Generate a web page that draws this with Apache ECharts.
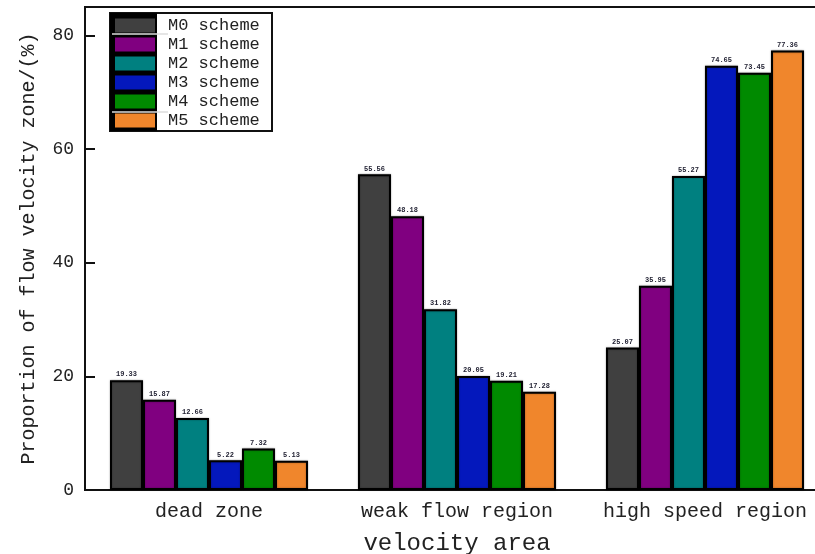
<!DOCTYPE html>
<html>
<head>
<meta charset="utf-8">
<script src="https://cdn.jsdelivr.net/npm/echarts@6/dist/echarts.min.js"></script>
<style>html,body{margin:0;padding:0;background:#fff}#c{width:815px;height:554px}</style>
</head>
<body>
<div id="c"></div>
<script>
const categories = ['dead zone', 'weak flow region', 'high speed region'];
const seriesNames = ['M0 scheme', 'M1 scheme', 'M2 scheme', 'M3 scheme', 'M4 scheme', 'M5 scheme'];
const M0 = [19.33, 55.56, 25.07];
const M1 = [15.87, 48.18, 35.95];
const M2 = [12.66, 31.82, 55.27];
const M3 = [5.22, 20.05, 74.65];
const M4 = [7.32, 19.21, 73.45];
const M5 = [5.13, 17.28, 77.36];
const yTicks = [0, 20, 40, 60, 80];
const colors = ['#404040', '#800080', '#008080', '#0418bc', '#008a00', '#f0862c'];
const allData = [M0, M1, M2, M3, M4, M5];

const FONT = '"Liberation Mono", "DejaVu Sans Mono", monospace';
const chart = echarts.init(document.getElementById('c'), null, {renderer: 'canvas'});
chart.setOption({
  animation: false,
  backgroundColor: '#fff',
  color: colors,
  grid: {left: 85, width: 744, top: 7, bottom: 64, outerBoundsMode: 'none', containLabel: false,
    show: true, borderColor: '#111', borderWidth: 2, backgroundColor: 'transparent'},
  graphic: [
    {type: 'rect', shape: {x: 110, y: 13, width: 162, height: 118}, style: {fill: '#fff', stroke: '#111', lineWidth: 2}, z: 10},
    {type: 'rect', shape: {x: 110, y: 13, width: 47, height: 118}, style: {fill: '#000'}, z: 11},
    {type: 'line', shape: {x1: 112, y1: 34, x2: 168, y2: 34}, style: {stroke: '#ddd', lineWidth: 1.5}, z: 12},
    {type: 'line', shape: {x1: 112, y1: 112, x2: 168, y2: 112}, style: {stroke: '#ddd', lineWidth: 1.5}, z: 12}
  ],
  legend: {
    orient: 'vertical', left: 115, top: 17, padding: 0, itemWidth: 40, itemHeight: 14, itemGap: 2,
    icon: 'rect', data: seriesNames, z: 20,
    itemStyle: {borderWidth: 0},
    textStyle: {fontFamily: FONT, fontSize: 17, color: '#222', padding: [0, 0, 0, 8]}
  },
  xAxis: {
    type: 'category', data: categories,
    axisLine: {lineStyle: {color: '#111', width: 2}},
    axisTick: {show: false},
    axisLabel: {fontFamily: FONT, fontSize: 20, color: '#222', margin: 12, interval: 0, hideOverlap: false},
    name: 'velocity area', nameLocation: 'middle', nameGap: 42,
    nameTextStyle: {fontFamily: FONT, fontSize: 24, color: '#222'}
  },
  yAxis: {
    type: 'value', min: 0, max: 85, interval: 20,
    splitLine: {show: false},
    axisLine: {show: true, lineStyle: {color: '#111', width: 2}},
    axisTick: {show: true, inside: true, length: 10, lineStyle: {color: '#111', width: 2}},
    axisLabel: {fontFamily: FONT, fontSize: 18, color: '#222', margin: 11, showMaxLabel: false,
      formatter: v => yTicks.includes(v) ? String(v) : ''},
    name: 'Proportion of flow velocity zone/(%)', nameLocation: 'middle', nameGap: 46,
    nameTextStyle: {fontFamily: FONT, fontSize: 20, color: '#222'}
  },
  series: allData.map((d, i) => ({
    name: seriesNames[i], type: 'bar', data: d, barWidth: 33, barGap: '0%',
    itemStyle: {color: colors[i], borderColor: '#000', borderWidth: 2, shadowColor: 'rgba(0,0,0,0.35)', shadowBlur: 2},
    label: {show: true, position: 'top', distance: 2, fontFamily: FONT, fontSize: 7, color: '#223', fontWeight: 'bold',
      formatter: p => p.value.toFixed(2)}
  }))
});
</script>
</body>
</html>
